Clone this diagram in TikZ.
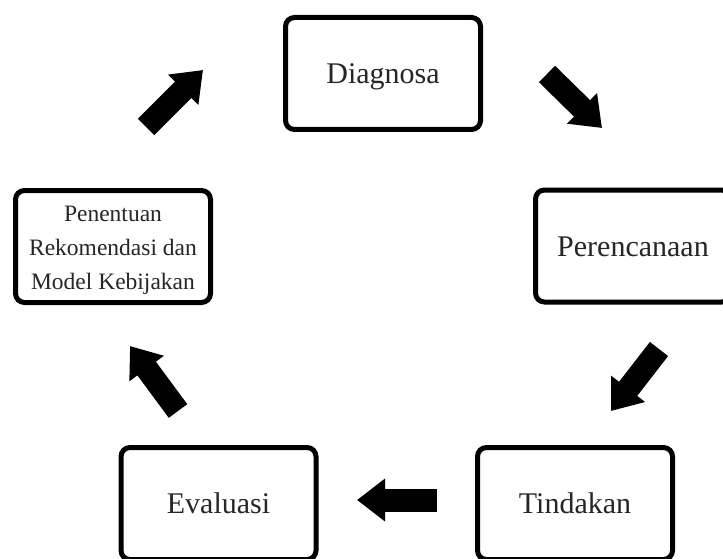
\documentclass[tikz,border=0pt]{standalone}
\usepackage{fontspec}
\setmainfont{Liberation Serif}
\usetikzlibrary{arrows.meta}
\begin{document}
\begin{tikzpicture}[x=1pt,y=-1pt,
  box/.style={draw=black, line width=5pt, rounded corners=9pt, minimum width=195pt,
    minimum height=112pt, inner sep=0pt, fill=white, text=black!85},
  oneline/.style={box, font=\fontsize{30}{36}\selectfont, text height=20pt, text depth=0pt},
  multiline/.style={box, align=center, font=\fontsize{23.5}{34}\selectfont},
  barrow/.style={draw=black, line width=23pt, -{Triangle[length=28pt,width=41pt]}}]
\clip (0,0) rectangle (723,559);
\fill[white] (0,0) rectangle (723,559);
\node[oneline] (diag) at (383,73.5) {Diagnosa};
\node[oneline] (peren) at (633,246) {Perencanaan};
\node[oneline] (tind) at (575,503.5) {Tindakan};
\node[oneline] (eval) at (218.5,503.5) {Evaluasi};
\node[box] (pen) at (113,246.5) {};
\node[multiline, draw=none, fill=none, minimum width=0pt, minimum height=0pt] (pentext) at (113,250) {Penentuan\\Rekomendasi dan\\Model Kebijakan};
\coordinate (a1s) at (146,127); \coordinate (a1e) at (203,70);
\coordinate (a2s) at (547,74);  \coordinate (a2e) at (602,128);
\coordinate (a3s) at (659,349); \coordinate (a3e) at (611,411);
\coordinate (a4s) at (437,500); \coordinate (a4e) at (357,500);
\coordinate (a5s) at (178,411); \coordinate (a5e) at (130,346);
\draw[barrow] (a1s) -- (a1e);
\draw[barrow] (a2s) -- (a2e);
\draw[barrow] (a3s) -- (a3e);
\draw[barrow] (a4s) -- (a4e);
\draw[barrow] (a5s) -- (a5e);
\end{tikzpicture}
\end{document}
